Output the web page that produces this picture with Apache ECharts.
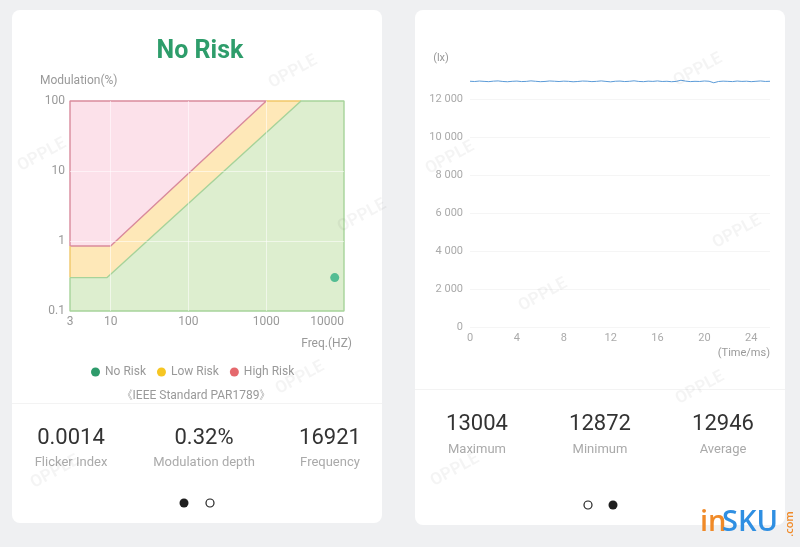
<!DOCTYPE html>
<html><head><meta charset="utf-8">
<script src="https://cdn.jsdelivr.net/npm/echarts@6/dist/echarts.min.js"></script>
<style>html,body{margin:0;padding:0;background:#eff0f2}#c{width:800px;height:547px}</style>
</head><body><div id="c"></div>
<script>
// ---- Left chart (IEEE 1789 risk regions) ----
const freqNoRisk = [3, 9, 2800, 10000];
const modNoRisk = [0.3, 0.3, 100, 100];
const freqLowRisk = [3, 10, 1000, 10000];
const modLowRisk = [0.85, 0.85, 100, 100];
const freqHighRisk = [3, 10000];
const modHighRisk = [100, 100];
const measuredFreq = [7600];
const measuredMod = [0.3];
const modMin = 0.1;
const legendNames = ['No Risk', 'Low Risk', 'High Risk'];
const leftStatValues = ['0.0014', '0.32%', '16921'];
const leftStatLabels = ['Flicker Index', 'Modulation depth', 'Frequency'];

// ---- Right chart (illuminance waveform) ----
const timeMs = [0, 0.4, 0.8, 1.2, 1.6, 2, 2.4, 2.8, 3.2, 3.6, 4, 4.4, 4.8, 5.2, 5.6, 6, 6.4, 6.8, 7.2, 7.6, 8, 8.4, 8.8, 9.2, 9.6, 10, 10.4, 10.8, 11.2, 11.6, 12, 12.4, 12.8, 13.2, 13.6, 14, 14.4, 14.8, 15.2, 15.6, 16, 16.4, 16.8, 17.2, 17.6, 18, 18.4, 18.8, 19.2, 19.6, 20, 20.4, 20.8, 21.2, 21.6, 22, 22.4, 22.8, 23.2, 23.6, 24, 24.4, 24.8, 25.2, 25.6];
const lux = [12951, 12938, 12962, 12945, 12931, 12957, 12969, 12940, 12926, 12948,
  12960, 12935, 12944, 12972, 12950, 12929, 12941, 12966, 12953, 12937,
  12958, 12947, 12924, 12939, 12963, 12955, 12932, 12946, 12970, 12943,
  12921, 12952, 12961, 12936, 12949, 12974, 12942, 12930, 12956, 12944,
  12968, 12939, 12950, 12927, 12945, 13004, 12959, 12933, 12948, 12940,
  12965, 12951, 12872, 12938, 12957, 12946, 12934, 12962, 12943, 12954,
  12931, 12949, 12967, 12941, 12950];
const rightStatValues = ['13004', '12872', '12946'];
const rightStatLabels = ['Maximum', 'Minimum', 'Average'];

const pairs = (xs, ys) => xs.map((x, i) => [x, ys[i]]);
const F = 'Roboto, "Noto Sans", sans-serif';

const chart = echarts.init(document.getElementById('c'), null, {renderer: 'canvas'});

function txt(x, y, text, size, color, extra) {
  return {type: 'text', x: x, y: y, z: 20,
    style: Object.assign({text: text, fontSize: size, fill: color, fontFamily: F, align: 'center', verticalAlign: 'middle'}, extra || {})};
}
function mark(x, y) {
  return {type: 'text', x: x, y: y, rotation: 0.5, z: 60, silent: true,
    style: {text: 'OPPLE', fontSize: 17, fontWeight: 'bold', fill: 'rgba(0,0,0,0.045)', fontFamily: F, align: 'center', verticalAlign: 'middle'}};
}

const graphics = [
  {type: 'rect', z: -10, shape: {x: 12, y: 10, width: 370, height: 513, r: 8}, style: {fill: '#ffffff'}},
  {type: 'rect', z: -10, shape: {x: 415, y: 10, width: 370, height: 515, r: 8}, style: {fill: '#ffffff'}},
  {type: 'rect', z: -9, shape: {x: 12, y: 403, width: 370, height: 1}, style: {fill: '#f3f3f3'}},
  {type: 'rect', z: -9, shape: {x: 415, y: 389, width: 370, height: 1}, style: {fill: '#f3f3f3'}},
  txt(200, 52, 'No Risk', 25, '#2e9d6b', {fontWeight: 'bold'}),
  txt(40, 81, 'Modulation(%)', 12, '#999', {align: 'left'}),
  txt(352, 344, 'Freq.(HZ)', 12, '#999', {align: 'right'}),
  txt(196, 396, '《IEEE Standard PAR1789》', 12, '#999'),
  txt(441, 58, '(lx)', 11, '#999'),
  txt(770, 353, '(Time/ms)', 11, '#999', {align: 'right'}),
  {type: 'circle', z: 20, shape: {cx: 184, cy: 503, r: 4.5}, style: {fill: '#1f1f1f'}},
  {type: 'circle', z: 20, shape: {cx: 210, cy: 503, r: 4}, style: {fill: '#fff', stroke: '#222', lineWidth: 1.2}},
  {type: 'circle', z: 20, shape: {cx: 588, cy: 505, r: 4}, style: {fill: '#fff', stroke: '#222', lineWidth: 1.2}},
  {type: 'circle', z: 20, shape: {cx: 613, cy: 505, r: 4.5}, style: {fill: '#1f1f1f'}},
  {type: 'text', x: 700, y: 537, z: 70, style: {text: 'in', fontSize: 29, fontWeight: 600, fill: '#f08a28', fontFamily: '"Open Sans", sans-serif', align: 'left', verticalAlign: 'bottom'}},
  {type: 'text', x: 722, y: 537, z: 70, style: {text: 'SKU', fontSize: 29, fontWeight: 600, fill: '#2f8fe2', fontFamily: '"Open Sans", sans-serif', align: 'left', verticalAlign: 'bottom'}},
  {type: 'text', x: 790, y: 524, z: 70, rotation: Math.PI / 2, style: {text: '.com', fontSize: 11, fontWeight: 600, fill: '#f08a28', fontFamily: '"Open Sans", sans-serif', align: 'center', verticalAlign: 'middle'}}
];
const leftCols = [71, 204, 330];
leftCols.forEach((cx, i) => {
  graphics.push(txt(cx, 438.5, leftStatValues[i], 22, '#333'));
  graphics.push(txt(cx, 463, leftStatLabels[i], 13, '#aaa'));
});
const rightCols = [477, 600, 723];
rightCols.forEach((cx, i) => {
  graphics.push(txt(cx, 424.5, rightStatValues[i], 22, '#333'));
  graphics.push(txt(cx, 450, rightStatLabels[i], 13, '#aaa'));
});
[[293, 72], [42, 155], [362, 216], [300, 378], [55, 472], [698, 70], [450, 158], [737, 232], [543, 295], [700, 388], [455, 470]]
  .forEach(p => graphics.push(mark(p[0], p[1])));

const lowLo = pairs(freqLowRisk, modLowRisk);
const noLo = pairs(freqNoRisk, modNoRisk);
const highTop = pairs(freqHighRisk, modHighRisk);

const option = {
  backgroundColor: '#eff0f2',
  animation: false,
  textStyle: {fontFamily: F},
  graphic: graphics,
  legend: {
    left: 86, top: 361, icon: 'circle', itemWidth: 9, itemHeight: 9, itemGap: 11,
    selectedMode: false,
    textStyle: {color: '#999', fontSize: 12, fontFamily: F},
    data: [
      {name: legendNames[0], itemStyle: {color: '#2e9b6b'}},
      {name: legendNames[1], itemStyle: {color: '#f6c623'}},
      {name: legendNames[2], itemStyle: {color: '#e5696d'}}
    ]
  },
  grid: [
    {left: 70, top: 101, width: 274, height: 210},
    {left: 470, top: 68, width: 300, height: 259}
  ],
  xAxis: [
    {type: 'log', gridIndex: 0, min: 3, max: 10000, z: 5,
      axisLine: {show: false}, axisTick: {show: false},
      axisLabel: {color: '#999', fontSize: 12, margin: 5, alignMaxLabel: 'right', formatter: v => String(v)},
      splitLine: {show: true, showMinLine: false, showMaxLine: false, lineStyle: {color: 'rgba(255,255,255,0.55)', width: 1}}},
    {type: 'value', gridIndex: 1, min: 0, max: 25.6, interval: 4, z: 1,
      axisLine: {show: false}, axisTick: {show: false},
      axisLabel: {color: '#aaa', fontSize: 11, margin: 6, showMaxLabel: false},
      splitLine: {show: false}}
  ],
  yAxis: [
    {type: 'log', gridIndex: 0, min: 0.1, max: 100, z: 5,
      axisLine: {show: false}, axisTick: {show: false},
      axisLabel: {color: '#999', fontSize: 12, margin: 5, formatter: v => String(v)},
      splitLine: {show: true, showMinLine: false, showMaxLine: false, lineStyle: {color: 'rgba(255,255,255,0.55)', width: 1}}},
    {type: 'value', gridIndex: 1, min: 0, max: 13650, interval: 2000, z: 1,
      axisLine: {show: false}, axisTick: {show: false},
      axisLabel: {color: '#aaa', fontSize: 11, margin: 7, showMaxLabel: false,
        formatter: v => v >= 1000 ? Math.floor(v / 1000) + ' ' + String(v % 1000).padStart(3, '0') : String(v)},
      splitLine: {show: true, showMaxLine: false, lineStyle: {color: '#f5f5f5', width: 1}}}
  ],
  series: [
    {name: legendNames[2], type: 'line', xAxisIndex: 0, yAxisIndex: 0, data: highTop, symbol: 'none',
      lineStyle: {width: 0}, areaStyle: {color: '#fce1ea', opacity: 1, origin: 'start'}, z: 2},
    {name: legendNames[1], type: 'line', xAxisIndex: 0, yAxisIndex: 0, data: lowLo, symbol: 'none',
      lineStyle: {width: 0}, areaStyle: {color: '#fee8b8', opacity: 1, origin: 'start'}, z: 2},
    {name: legendNames[0], type: 'line', xAxisIndex: 0, yAxisIndex: 0, data: noLo, symbol: 'none',
      lineStyle: {width: 0}, areaStyle: {color: '#ddeecf', opacity: 1, origin: 'start'}, z: 2},
    {name: 'pinkEdge', type: 'line', xAxisIndex: 0, yAxisIndex: 0, symbol: 'none', clip: false, silent: true,
      data: [lowLo[0], highTop[0], lowLo[2], lowLo[1], lowLo[0]],
      lineStyle: {color: '#d98a9c', width: 1.4}, z: 3},
    {name: 'yellowEdgeL', type: 'line', xAxisIndex: 0, yAxisIndex: 0, symbol: 'none', clip: false, silent: true,
      data: [noLo[0], lowLo[0]], lineStyle: {color: '#f0c768', width: 1.4}, z: 3},
    {name: 'yellowEdgeT', type: 'line', xAxisIndex: 0, yAxisIndex: 0, symbol: 'none', clip: false, silent: true,
      data: [lowLo[2], noLo[2]], lineStyle: {color: '#f0c768', width: 1.4}, z: 3},
    {name: 'greenEdge', type: 'line', xAxisIndex: 0, yAxisIndex: 0, symbol: 'none', clip: false, silent: true,
      data: [noLo[0], noLo[1], noLo[2], noLo[3], [freqNoRisk[3], modMin], [freqNoRisk[0], modMin], noLo[0]],
      lineStyle: {color: '#a6d39a', width: 1.4}, z: 3},
    {name: 'measured', type: 'scatter', xAxisIndex: 0, yAxisIndex: 0, data: pairs(measuredFreq, measuredMod),
      symbolSize: 9, itemStyle: {color: '#31b083'}, z: 6},
    {name: 'lux', type: 'line', xAxisIndex: 1, yAxisIndex: 1, data: pairs(timeMs, lux), symbol: 'none',
      lineStyle: {color: '#5b9bd8', width: 1}, z: 4}
  ]
};
chart.setOption(option);
</script>
</body></html>
